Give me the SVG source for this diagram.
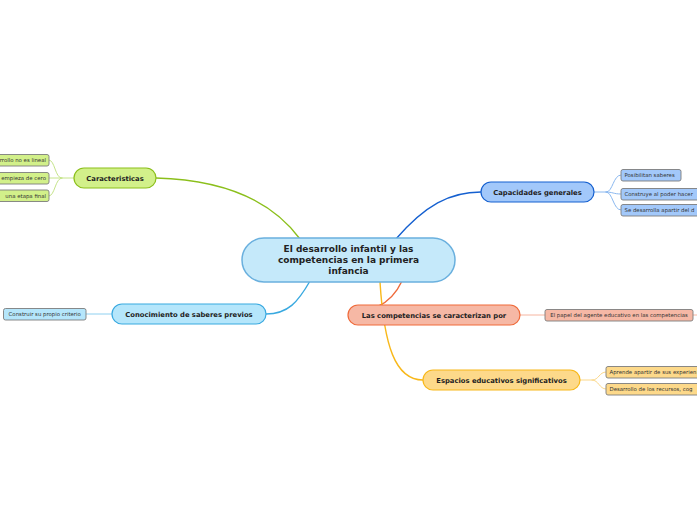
<svg xmlns="http://www.w3.org/2000/svg" width="697" height="520" viewBox="0 0 697 520">
<style>
.main{font-family:"DejaVu Sans","Liberation Sans",sans-serif;font-weight:bold;fill:#222;text-anchor:middle}
.leaf{font-family:"DejaVu Sans","Liberation Sans",sans-serif;font-size:5.4px;fill:#333}
.lb{stroke:#7d7d7d;stroke-width:0.9}
.c{fill:none;stroke-linecap:round}
</style>
<rect width="697" height="520" fill="#ffffff"/>
<g id="connectors">
<path class="c" d="M156,178 C230,180 275,205 300,239" stroke="#8bbf1b" stroke-width="1.4"/>
<path class="c" d="M395,240 C425,205 450,192 481,192" stroke="#1560d0" stroke-width="1.4"/>
<path class="c" d="M310,281 C298,302 288,314 266,314" stroke="#39a9e0" stroke-width="1.4"/>
<path class="c" d="M402,281 C396,294 388,302 377,307" stroke="#ef6a3a" stroke-width="1.4"/>
<path class="c" d="M380,282 C384,345 395,380 423,380" stroke="#f8b81a" stroke-width="1.4"/>
<path class="c" d="M74,178 L62,178 C55,178 55,160 49,160 M62,178 L49,178 M62,178 C55,178 55,196 49,196" stroke="#c5e48a" stroke-width="1"/>
<path class="c" d="M112,314 L86,314" stroke="#8fd0f0" stroke-width="1"/>
<path class="c" d="M594,192 L606,192 C613,192 613,175 621,175 M606,192 C613,192 613,194 621,194 M606,192 C613,192 613,210 621,210" stroke="#8ab8f0" stroke-width="1"/>
<path class="c" d="M520,315 L545,315 M693,315 L697,315" stroke="#f6b5a0" stroke-width="1"/>
<path class="c" d="M580,380 L592,380 C599,380 599,372 606,372 M592,380 C599,380 599,389 606,389" stroke="#fbd88a" stroke-width="1"/>
</g>
<g id="central">
<rect x="242" y="238" width="213" height="44" rx="22" fill="#c5e9fa" stroke="#6ab0de" stroke-width="1.5"/>
<text class="main" font-size="9" x="348.5" y="252">El desarrollo infantil y las</text>
<text class="main" font-size="9" x="348.5" y="263">competencias en la primera</text>
<text class="main" font-size="9" x="348.5" y="274">infancia</text>
</g>
<g id="caracteristicas">
<rect x="74" y="168" width="82" height="20" rx="10" fill="#d2f08a" stroke="#8bbf1b" stroke-width="1.2"/>
<text class="main" font-size="6.8" x="115" y="180.5">Caracteristicas</text>
</g>
<g id="car-leaf1"><rect class="lb" x="-10" y="154.5" width="59" height="11.5" rx="2" fill="#d2f08a"/><text class="leaf" x="46" y="162.3" text-anchor="end">rrollo no es lineal</text></g>
<g id="car-leaf2"><rect class="lb" x="-10" y="172.5" width="59" height="11.5" rx="2" fill="#d2f08a"/><text class="leaf" x="46" y="180.3" text-anchor="end">empieza de cero</text></g>
<g id="car-leaf3"><rect class="lb" x="-10" y="190" width="59" height="11.5" rx="2" fill="#d2f08a"/><text class="leaf" x="46" y="197.8" text-anchor="end">una etapa final</text></g>
<g id="conocimiento">
<rect x="112" y="304" width="154" height="20" rx="10" fill="#b5e6fb" stroke="#39a9e0" stroke-width="1.2"/>
<text class="main" font-size="6.8" x="189" y="316.5">Conocimiento de saberes previos</text>
</g>
<g id="con-leaf1"><rect class="lb" x="3.5" y="308.5" width="82.5" height="11.5" rx="2" fill="#b5e6fb"/><text class="leaf" x="44.75" y="316.4" text-anchor="middle">Construir su propio criterio</text></g>
<g id="capacidades">
<rect x="481" y="182" width="113" height="20" rx="10" fill="#a2c8fa" stroke="#1560d0" stroke-width="1.2"/>
<text class="main" font-size="6.8" x="537.5" y="194.5">Capacidades generales</text>
</g>
<g id="cap-leaf1"><rect class="lb" x="621" y="169.5" width="60" height="11.5" rx="2" fill="#a2c8fa"/><text class="leaf" x="624.5" y="177.3">Posibilitan saberes</text></g>
<g id="cap-leaf2"><rect class="lb" x="621" y="188.5" width="80" height="11.5" rx="2" fill="#a2c8fa"/><text class="leaf" x="624.5" y="196.3">Construye al poder hacer</text></g>
<g id="cap-leaf3"><rect class="lb" x="621" y="204.5" width="80" height="11.5" rx="2" fill="#a2c8fa"/><text class="leaf" x="624.5" y="212.3">Se desarrolla apartir del d</text></g>
<g id="competencias">
<rect x="348" y="305" width="172" height="20" rx="10" fill="#f6b8a5" stroke="#ef6a3a" stroke-width="1.2"/>
<text class="main" font-size="6.8" x="434" y="317.5">Las competencias se caracterizan por</text>
</g>
<g id="comp-leaf1"><rect class="lb" x="545" y="309.5" width="148" height="11.5" rx="2" fill="#f6b8a5"/><text class="leaf" x="619" y="317.3" text-anchor="middle">El papel del agente educativo en las competencias</text></g>
<g id="espacios">
<rect x="423" y="370" width="157" height="20" rx="10" fill="#fdd98a" stroke="#f8b81a" stroke-width="1.2"/>
<text class="main" font-size="6.8" x="501.5" y="382.5">Espacios educativos significativos</text>
</g>
<g id="esp-leaf1"><rect class="lb" x="606" y="366.5" width="100" height="11.5" rx="2" fill="#fdd98a"/><text class="leaf" x="609.5" y="374.3">Aprende apartir de sus experien</text></g>
<g id="esp-leaf2"><rect class="lb" x="606" y="383.5" width="100" height="11.5" rx="2" fill="#fdd98a"/><text class="leaf" x="609.5" y="391.3">Desarrollo de los recursos, cog</text></g>
</svg>
